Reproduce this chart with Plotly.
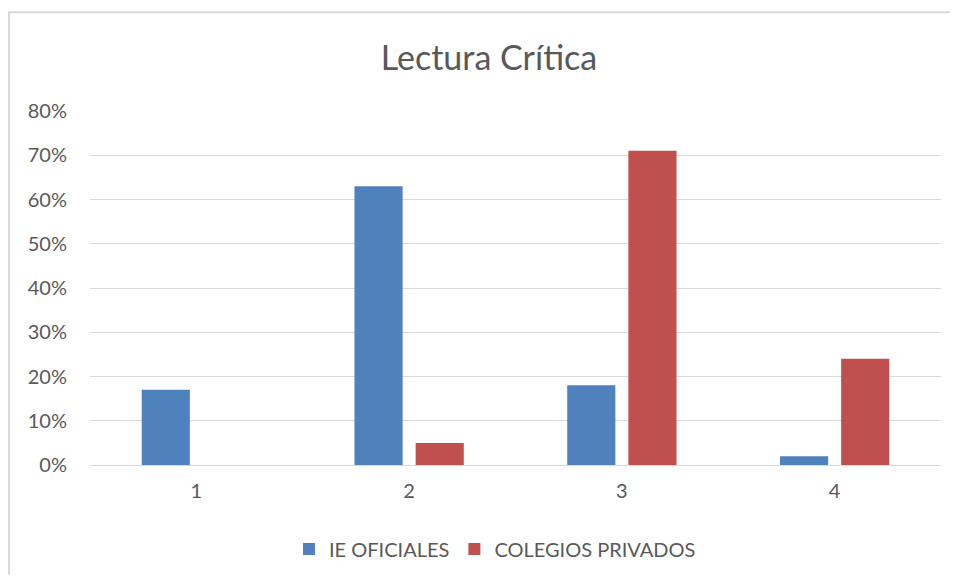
import plotly.graph_objects as go

# Datos
categorias = ["1", "2", "3", "4"]
ie_oficiales = [0.17, 0.63, 0.18, 0.02]
colegios_privados = [0.0, 0.05, 0.71, 0.24]

FUENTE = "Lato, 'Open Sans', sans-serif"
GRIS_TEXTO = "#595959"

fig = go.Figure()
fig.add_trace(go.Bar(x=categorias, y=ie_oficiales, name="IE OFICIALES",
                     marker=dict(color="#4F81BD", line=dict(width=0))))
fig.add_trace(go.Bar(x=categorias, y=colegios_privados, name="COLEGIOS PRIVADOS",
                     marker=dict(color="#C0504D", line=dict(width=0))))

# La página tiene un margen de 8 px; el tamaño se ajusta para no provocar scroll
W, H = 942, 568
L, R, T, B = 82, 9, 103, 110
pw, ph = W - L - R, H - T - B

# Marco del gráfico: solo se ven el borde superior e izquierdo
x_izq = (1 - L) / pw
x_der = (W - L) / pw
y_sup = (H - B - 4) / ph
y_inf = -B / ph
fig.add_shape(type="path", xref="paper", yref="paper",
              path=f"M {x_izq} {y_inf} L {x_izq} {y_sup} L {x_der} {y_sup}",
              line=dict(color="#D9D9D9", width=2), layer="below")

fig.update_layout(
    width=W, height=H,
    margin=dict(l=L, r=R, t=T, b=B),
    paper_bgcolor="white", plot_bgcolor="white",
    title=dict(text="Lectura Crítica", x=(481 - L) / pw, xref="paper", xanchor="center",
               y=1 - 50 / H, yanchor="middle",
               font=dict(family=FUENTE, size=34, color=GRIS_TEXTO)),
    font=dict(family=FUENTE, size=20, color=GRIS_TEXTO),
    barmode="group", bargap=0.425, bargroupgap=0.213,
    showlegend=True,
    legend=dict(orientation="h", x=(487 - L) / pw, xanchor="center",
                y=-(541 - (H - B)) / ph, yanchor="middle",
                font=dict(size=20, color=GRIS_TEXTO), itemwidth=30,
                traceorder="normal"),
)
fig.update_xaxes(showgrid=False, showline=False, ticks="", ticklabelstandoff=12,
                 tickfont=dict(size=20))
fig.update_yaxes(range=[0, 0.8], dtick=0.1, tickformat=".0%", showgrid=True,
                 gridcolor="#D9D9D9", gridwidth=1, zeroline=True, zerolinecolor="#D9D9D9",
                 zerolinewidth=1, showline=False, ticks="", ticklabelstandoff=22,
                 tickfont=dict(size=20))

fig.write_html("out.html")
